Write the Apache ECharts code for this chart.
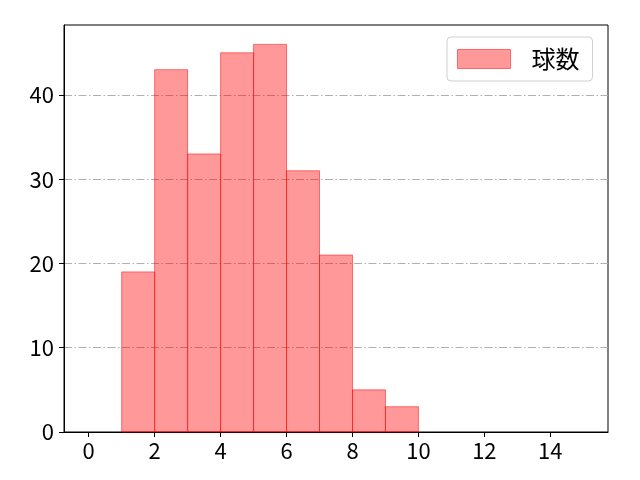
<!DOCTYPE html>
<html><head><meta charset="utf-8">
<script src="https://cdn.jsdelivr.net/npm/echarts@6/dist/echarts.min.js"></script>
<style>html,body{margin:0;padding:0;background:#fff}#c{width:640px;height:480px}</style>
</head><body><div id="c"></div>
<script>
const binStarts = [1, 2, 3, 4, 5, 6, 7, 8, 9];
const binWidth = 1;
const counts = [19, 43, 33, 45, 46, 31, 21, 5, 3];
const seriesName = '球数';
const xTicks = [0, 2, 4, 6, 8, 10, 12, 14];
const yTicks = [0, 10, 20, 30, 40];

const data = binStarts.map((s, i) => [s, s + binWidth, counts[i]]);
const font = "'Noto Sans CJK JP', 'DejaVu Sans', sans-serif";
const chart = echarts.init(document.getElementById('c'), null, {renderer: 'canvas'});
chart.setOption({
  animation: false,
  backgroundColor: '#fff',
  grid: {left: 64, right: 32, top: 25, bottom: 48, show: true, borderColor: '#000', borderWidth: 1, backgroundColor: 'transparent'},
  legend: {
    left: 447, top: 37,
    padding: [10, 13, 10, 10],
    borderColor: '#d0d0d0', borderWidth: 1, borderRadius: 4,
    backgroundColor: '#fff',
    itemWidth: 53, itemHeight: 19,
    textStyle: {fontSize: 24, color: '#000', fontFamily: font, padding: [0, 0, 0, 16]},
    data: [{name: seriesName, icon: 'rect', itemStyle: {color: 'rgba(255,0,0,0.4)', borderColor: 'rgba(255,0,0,0.5)', borderWidth: 1}}]
  },
  xAxis: {
    type: 'value', min: -0.75, max: 15.75,
    axisLine: {show: true, onZero: false, lineStyle: {color: '#000', width: 1}},
    axisTick: {show: true, inside: false, length: 5, customValues: xTicks, lineStyle: {color: '#000'}},
    axisLabel: {customValues: xTicks, fontSize: 22, color: '#000', fontFamily: font, margin: 8},
    splitLine: {show: false}
  },
  yAxis: {
    type: 'value', min: 0, max: 48.3, interval: 10,
    axisLine: {show: true, onZero: false, lineStyle: {color: '#000', width: 1}},
    axisTick: {show: true, inside: false, length: 5, customValues: yTicks, lineStyle: {color: '#000'}},
    axisLabel: {customValues: yTicks, fontSize: 22, color: '#000', fontFamily: font, margin: 10},
    splitLine: {show: true, lineStyle: {color: '#b0b0b0', width: 1, type: [8, 2.5, 1.5, 2.5]}}
  },
  series: [{
    name: seriesName,
    type: 'custom',
    data: data,
    encode: {x: [0, 1], y: 2},
    renderItem: function (params, api) {
      const p0 = api.coord([api.value(0), api.value(2)]);
      const p1 = api.coord([api.value(1), 0]);
      return {
        type: 'rect',
        shape: {x: p0[0], y: p0[1], width: p1[0] - p0[0], height: p1[1] - p0[1]},
        style: {fill: 'rgba(255,0,0,0.4)', stroke: 'rgba(255,0,0,0.5)', lineWidth: 1}
      };
    },
    itemStyle: {color: 'rgba(255,0,0,0.4)', borderColor: 'rgba(255,0,0,0.5)'}
  }]
});
</script></body></html>
